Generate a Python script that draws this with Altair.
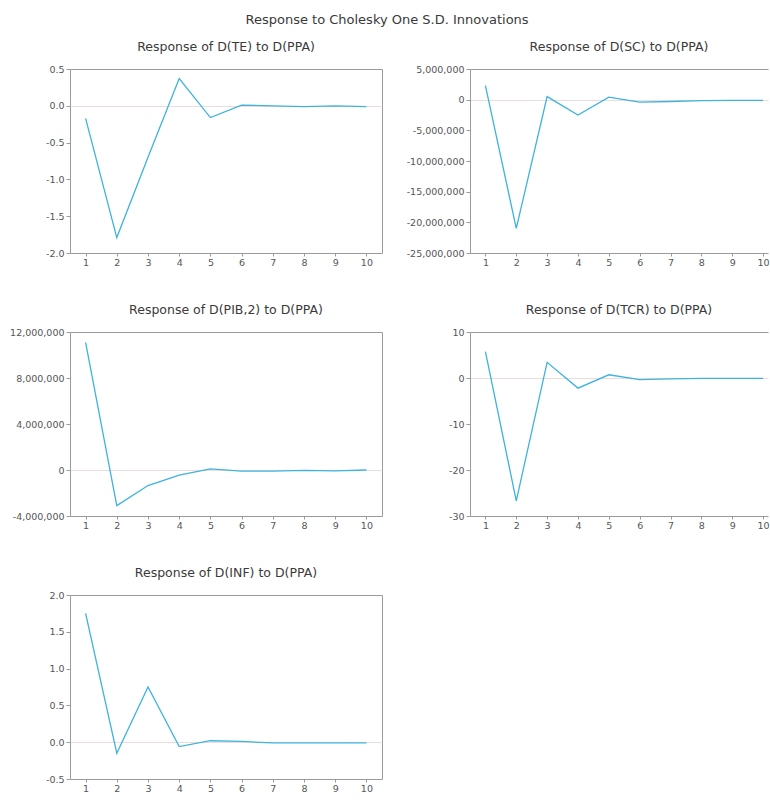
import altair as alt
import pandas as pd

periods = [1, 2, 3, 4, 5, 6, 7, 8, 9, 10]

te = [-0.17, -1.79, -0.70, 0.37, -0.16, 0.01, 0.00, -0.01, 0.00, -0.01]
sc = [2300000, -21000000, 500000, -2500000, 400000, -400000, -300000, -150000, -100000, -100000]
pib = [11100000, -3100000, -1350000, -450000, 100000, -100000, -100000, -30000, -80000, 0]
tcr = [5.75, -26.7, 3.4, -2.2, 0.7, -0.35, -0.2, -0.1, -0.1, -0.1]
inf = [1.75, -0.15, 0.75, -0.06, 0.02, 0.01, -0.01, -0.01, -0.01, -0.01]

titles = [
    "Response of D(TE) to D(PPA)",
    "Response of D(SC) to D(PPA)",
    "Response of D(PIB,2) to D(PPA)",
    "Response of D(TCR) to D(PPA)",
    "Response of D(INF) to D(PPA)",
]
domains = [[-2.0, 0.5], [-25000000, 5000000], [-4000000, 12000000], [-30, 10], [-0.5, 2.0]]
ticks = [
    [-2.0, -1.5, -1.0, -0.5, 0.0, 0.5],
    [-25000000, -20000000, -15000000, -10000000, -5000000, 0, 5000000],
    [-4000000, 0, 4000000, 8000000, 12000000],
    [-30, -20, -10, 0, 10],
    [-0.5, 0.0, 0.5, 1.0, 1.5, 2.0],
]
formats = [".1f", ",d", ",d", "d", ".1f"]
series = [te, sc, pib, tcr, inf]

LINE = "#3fb3dd"
FRAME = "#9a9a9a"
ZERO = "#ecdcdc"
FONT = "DejaVu Sans"


def panel(vals, title, dom, tvals, fmt, width=312, xmax=10.5, open_right=False):
    df = pd.DataFrame({"period": periods, "value": vals})
    grid_conds = [{"test": "datum.value === 0", "value": ZERO}]
    if open_right:
        grid_conds.append({"test": "datum.value === %d" % dom[1], "value": FRAME})
    ch = alt.Chart(df).mark_line(color=LINE, strokeWidth=1.3).encode(
        x=alt.X(
            "period:Q",
            scale=alt.Scale(domain=[0.5, xmax], nice=False, zero=False),
            axis=alt.Axis(
                values=periods, title=None, grid=False, format="d",
                minExtent=22, maxExtent=22, labelPadding=1, tickSize=3,
                domain=open_right, domainColor=FRAME,
            ),
        ),
        y=alt.Y(
            "value:Q",
            scale=alt.Scale(domain=dom, nice=False, zero=False),
            axis=alt.Axis(
                values=tvals, title=None, format=fmt,
                labelExpr="replace(datum.label, '\u2212', '-')",
                minExtent=65, maxExtent=65, labelPadding=2, tickSize=4,
                grid=True, gridColor={"condition": grid_conds, "value": "transparent"},
                domain=open_right, domainColor=FRAME,
            ),
        ),
    ).properties(
        width=width,
        height=184,
        title=alt.TitleParams(title, fontSize=12.5, fontWeight="normal", color="#3a3a3a",
                              offset=10.5, font=FONT),
    )
    if open_right:
        ch = ch.properties(view=alt.ViewBackground(stroke="transparent"))
    return ch


panels = []
for i in range(5):
    if i in (1, 3):
        panels.append(panel(series[i], titles[i], domains[i], ticks[i], formats[i],
                            width=298, xmax=10.16, open_right=True))
    else:
        panels.append(panel(series[i], titles[i], domains[i], ticks[i], formats[i]))

chart = alt.concat(*panels, columns=2, spacing={"row": 27, "column": 21}, align="each").properties(
    title=alt.TitleParams(
        "Response to Cholesky One S.D. Innovations",
        fontSize=13, fontWeight="normal", color="#3a3a3a", anchor="middle", offset=13.5, font=FONT,
    ),
    padding={"left": 4, "top": 14, "right": 0, "bottom": 0},
).configure(font=FONT).configure_view(
    stroke=FRAME, strokeWidth=1
).configure_axis(
    domain=False, tickColor=FRAME, labelColor="#555555", labelFontSize=9.5,
    labelFont=FONT,
)

chart.save("out.html", embed_options={"renderer": "svg", "actions": False})
